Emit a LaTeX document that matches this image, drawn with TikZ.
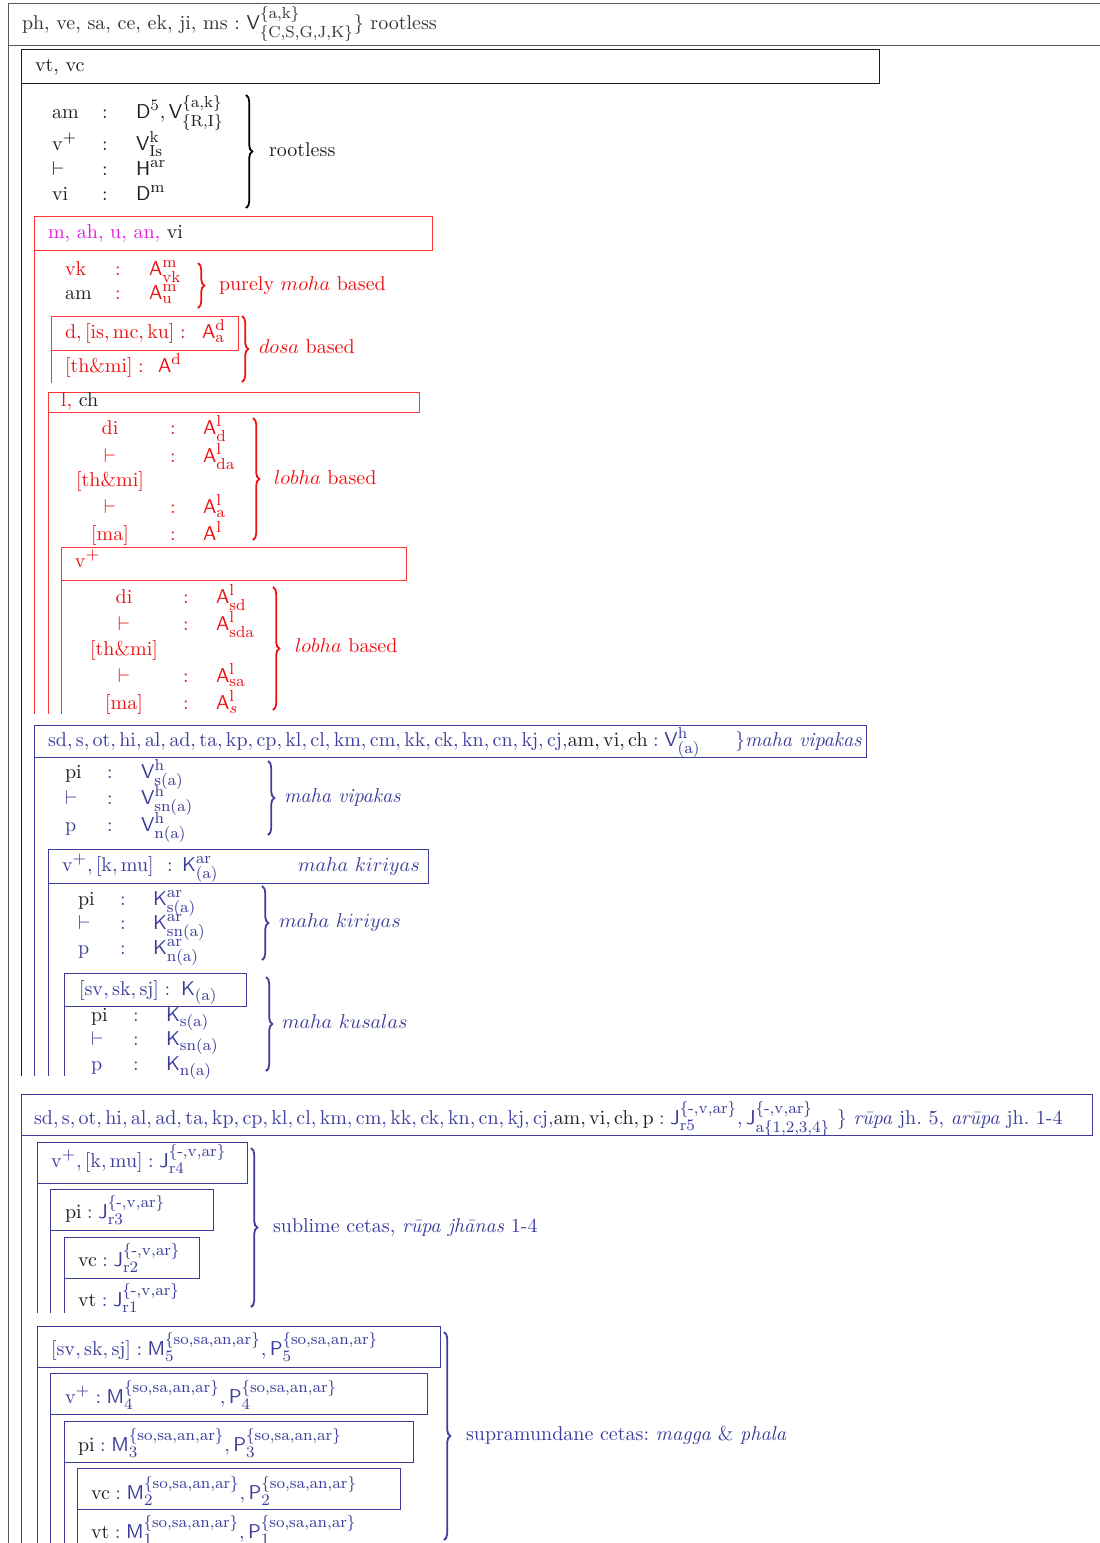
\documentclass[tikz,border=0pt]{standalone}
\usepackage{amsmath,amssymb}
\usepackage{tikz}
\usetikzlibrary{decorations.pathreplacing}
\usepackage{xcolor}
\DeclareMathSizes{10}{10}{8}{6}
\definecolor{framegray}{HTML}{5A5A5A}
\definecolor{inkblack}{HTML}{1E1E1E}
\definecolor{akred}{HTML}{EE1111}
\definecolor{akline}{HTML}{FF3333}
\definecolor{akmag}{HTML}{E01CE0}
\definecolor{kblue}{HTML}{3C3C9C}
\tikzset{
  txt/.style       = {anchor=base west, inner sep=0pt, outer sep=0pt},
  ctxt/.style      = {anchor=base, inner sep=0pt, outer sep=0pt},
  grayline/.style  = {draw=framegray, line width=0.5pt},
  blackline/.style = {draw=inkblack, line width=0.5pt},
  redline/.style   = {draw=akline, line width=0.5pt},
  blueline/.style  = {draw=kblue, line width=0.5pt},
  cbrace/.style    = {decorate, decoration={brace, amplitude=3.2pt}, line width=0.9pt},
}
\newcommand{\br}[1]{\{\mathrm{#1}\}}
\newcommand{\jsup}{\{\text{-},\mathrm{v,ar}\}}
\newcommand{\tabrow}[8]{%
  \node[#6] (#1l) at (#2,#5) {#7};
  \node[ctxt] (#1c) at (#3,#5) {:};
  \node[txt] (#1v) at (#4,#5) {#8};}

\begin{document}
\frenchspacing
\begin{tikzpicture}[x=0.5pt, y=-0.5pt, text=inkblack]
\useasboundingbox (0,0) rectangle (1099,1543);
% ---- outer frame ----
\draw[grayline] (1105,3) -- (8,3) -- (8,1543);
\draw[grayline] (8,45) -- (1105,45);
\node[txt,text=black!80] (hdr) at (22,29)
  {ph, ve, sa, ce, ek, ji, ms : $\mathsf{V}^{\br{a,k}}_{\br{C,S,G,J,K}}$\} rootless};
% ---- vt, vc ----
\draw[blackline] (21,1076) -- (21,49) -- (879,49) -- (879,83) -- (21,83);
\node[txt] (vtvc) at (35,71) {vt, vc};
\tabrow{am}{52}{105}{136}{118}{txt}{am}{$\mathsf{D}^5, \mathsf{V}^{\br{a,k}}_{\br{R,I}}$}
\tabrow{vp}{52}{105}{136}{150}{txt}{$\mathrm{v}^{+}$}{$\mathsf{V}^{\mathrm{k}}_{\mathrm{Is}}$}
\tabrow{vd}{52}{105}{136}{175}{txt}{$\vdash$}{$\mathsf{H}^{\mathrm{ar}}$}
\tabrow{vi}{52}{105}{136}{200}{txt}{vi}{$\mathsf{D}^{\mathrm{m}}$}
\draw[cbrace] (246,95) -- (246,208);
\node[txt] (rootless) at (269,156) {rootless};
% ---- akusala: moha, dosa, lobha ----
\begin{scope}[text=akred]
\draw[redline] (34,714) -- (34,216) -- (432,216) -- (432,250) -- (34,250);
\node[txt] (mah) at (48,238) {\textcolor{akmag}{m, ah, u, an,} \textcolor{inkblack}{vi}};
\tabrow{vk}{65}{118}{149}{275}{txt}{vk}{$\mathsf{A}^{\mathrm{m}}_{\mathrm{vk}}$}
\tabrow{mam}{65}{118}{149}{299}{txt}{\textcolor{inkblack}{am}}{$\mathsf{A}^{\mathrm{m}}_{\mathrm{u}}$}
\draw[cbrace,akred] (198,263) -- (198,308);
\node[txt] (moha) at (219,290) {purely $moha$ based};
% dosa
\draw[redline] (51,383) -- (51,316) -- (238,316) -- (238,350) -- (51,350);
\node[txt] (dbox) at (65,338) {$\mathrm{d, [is, mc, ku]} :$};
\node[txt] (dval) at (202,338) {$\mathsf{A}^{\mathrm{d}}_{\mathrm{a}}$};
\node[txt] (thmi) at (65,372) {$\mathrm{[th\&mi]} :$};
\node[txt] (thval) at (158,372) {$\mathsf{A}^{\mathrm{d}}$};
\draw[cbrace,akred] (242,316) -- (242,382);
\node[txt] (dosa) at (259,353) {$dosa$ based};
% lobha
\draw[redline] (48,714) -- (48,392) -- (419,392) -- (419,412) -- (48,412);
\node[txt] (lch) at (61,406) {l, \textcolor{inkblack}{ch}};
\tabrow{la}{110}{173}{203}{434}{ctxt}{di}{$\mathsf{A}^{\mathrm{l}}_{\mathrm{d}}$}
\tabrow{lb}{110}{173}{203}{462}{ctxt}{$\vdash$}{$\mathsf{A}^{\mathrm{l}}_{\mathrm{da}}$}
\node[ctxt] (lc) at (110,486) {[th\&mi]};
\tabrow{ld}{110}{173}{203}{513}{ctxt}{$\vdash$}{$\mathsf{A}^{\mathrm{l}}_{\mathrm{a}}$}
\tabrow{le}{110}{173}{203}{540}{ctxt}{[ma]}{$\mathsf{A}^{\mathrm{l}}$}
\draw[cbrace,akred] (253,418) -- (253,540);
\node[txt] (lobha) at (274,484) {$lobha$ based};
% lobha with v+
\draw[redline] (61,714) -- (61,547) -- (406,547) -- (406,580) -- (61,580);
\node[txt] (vplus) at (75,567) {$\mathrm{v}^{+}$};
\tabrow{sa}{124}{186}{216}{603}{ctxt}{di}{$\mathsf{A}^{\mathrm{l}}_{\mathrm{sd}}$}
\tabrow{sb}{124}{186}{216}{630}{ctxt}{$\vdash$}{$\mathsf{A}^{\mathrm{l}}_{\mathrm{sda}}$}
\node[ctxt] (sc) at (124,655) {[th\&mi]};
\tabrow{sd}{124}{186}{216}{682}{ctxt}{$\vdash$}{$\mathsf{A}^{\mathrm{l}}_{\mathrm{sa}}$}
\tabrow{se}{124}{186}{216}{709}{ctxt}{[ma]}{$\mathsf{A}^{\mathrm{l}}_{s}$}
\draw[cbrace,akred] (273,587) -- (273,710);
\node[txt] (lobhas) at (295,652) {$lobha$ based};
\end{scope}
% ---- vipakas, kiriyas, kusalas ----
\begin{scope}[text=kblue]
\draw[blueline] (34,1076) -- (34,725) -- (866,725) -- (866,757) -- (34,757);
\node[txt] (vhdr) at (48,746) {$\mathrm{sd, s, ot, hi, al, ad, ta, kp, cp, kl, cl, km, cm, kk, ck, kn, cn, kj, cj,}
  \textcolor{inkblack}{\mathrm{am, vi, ch}} : \mathsf{V}^{\mathrm{h}}_{(\mathrm{a})}$};
\node[txt] (vipk) at (735,746) {\}\textit{maha vipakas}};
\tabrow{pa}{65}{110}{141}{778}{txt}{\textcolor{inkblack}{pi}}{$\mathsf{V}^{\mathrm{h}}_{\mathrm{s(a)}}$}
\tabrow{pb}{65}{110}{141}{804}{txt}{$\vdash$}{$\mathsf{V}^{\mathrm{h}}_{\mathrm{sn(a)}}$}
\tabrow{pc}{65}{110}{141}{831}{txt}{p}{$\mathsf{V}^{\mathrm{h}}_{\mathrm{n(a)}}$}
\draw[cbrace,kblue] (268,761) -- (268,835);
\node[txt] (vipks) at (284,802) {\textit{maha vipakas}};
% kiriyas
\draw[blueline] (48,1076) -- (48,849) -- (428,849) -- (428,883) -- (48,883);
\node[txt] (khdr) at (62,871) {$\mathrm{v}^{+}, \mathrm{[k, mu]}$};
\node[ctxt] (khdrc) at (170,871) {:};
\node[txt] (khdrv) at (182,871) {$\mathsf{K}^{\mathrm{ar}}_{(\mathrm{a})}$};
\node[txt] (kiri) at (298,871) {$maha\ kiriyas$};
\tabrow{ka}{78}{123}{153}{905}{txt}{\textcolor{inkblack}{pi}}{$\mathsf{K}^{\mathrm{ar}}_{\mathrm{s(a)}}$}
\tabrow{kb}{78}{123}{153}{929}{txt}{$\vdash$}{$\mathsf{K}^{\mathrm{ar}}_{\mathrm{sn(a)}}$}
\tabrow{kc}{78}{123}{153}{954}{txt}{p}{$\mathsf{K}^{\mathrm{ar}}_{\mathrm{n(a)}}$}
\draw[cbrace,kblue] (262,886) -- (262,960);
\node[txt] (kiris) at (279,927) {$maha\ kiriyas$};
% kusalas
\draw[blueline] (64,1076) -- (64,973) -- (246,973) -- (246,1006) -- (64,1006);
\node[txt] (shdr) at (79,995) {$\mathrm{[sv, sk, sj]} :$};
\node[txt] (shdrv) at (181,995) {$\mathsf{K}_{(\mathrm{a})}$};
\tabrow{ua}{91}{136}{166}{1021}{txt}{\textcolor{inkblack}{pi}}{$\mathsf{K}_{\mathrm{s(a)}}$}
\tabrow{ub}{91}{136}{166}{1045}{txt}{$\vdash$}{$\mathsf{K}_{\mathrm{sn(a)}}$}
\tabrow{uc}{91}{136}{166}{1070}{txt}{p}{$\mathsf{K}_{\mathrm{n(a)}}$}
\draw[cbrace,kblue] (266,977) -- (266,1071);
\node[txt] (kusa) at (282,1028) {$maha\ kusalas$};
% ---- jhanas ----
\draw[blueline] (21,1543) -- (21,1094) -- (1092,1094) -- (1092,1135) -- (21,1135);
\node[txt] (jhdr) at (34,1124) {$\mathrm{sd, s, ot, hi, al, ad, ta, kp, cp, kl, cl, km, cm, kk, ck, kn, cn, kj, cj,}
  \textcolor{inkblack}{\mathrm{am, vi, ch, p}} : \mathsf{J}^{\jsup}_{\mathrm{r5}}, \mathsf{J}^{\jsup}_{\mathrm{a}\{1,2,3,4\}}$
  \} \textit{r\=upa} jh. 5, \textit{ar\=upa} jh. 1-4};
\draw[blueline] (37,1313) -- (37,1142) -- (247,1142) -- (247,1183) -- (37,1183);
\node[txt] (jra) at (51,1167) {$\mathrm{v}^{+}, \mathrm{[k, mu]} : \mathsf{J}^{\jsup}_{\mathrm{r4}}$};
\draw[blueline] (50,1313) -- (50,1189) -- (213,1189) -- (213,1230) -- (50,1230);
\node[txt] (jrb) at (65,1218) {$\textcolor{inkblack}{\mathrm{pi}} : \mathsf{J}^{\jsup}_{\mathrm{r3}}$};
\draw[blueline] (64,1313) -- (64,1237) -- (199,1237) -- (199,1278) -- (64,1278);
\node[txt] (jrc) at (78,1266) {$\textcolor{inkblack}{\mathrm{vc}} : \mathsf{J}^{\jsup}_{\mathrm{r2}}$};
\node[txt] (jrd) at (78,1306) {$\textcolor{inkblack}{\mathrm{vt}} : \mathsf{J}^{\jsup}_{\mathrm{r1}}$};
\draw[cbrace,kblue] (251,1148) -- (251,1307);
\node[txt] (subl) at (273,1232) {sublime cetas, \textit{r\=upa jh\=anas} 1-4};
% ---- magga & phala ----
\draw[blueline] (37,1543) -- (37,1326) -- (440,1326) -- (440,1367) -- (37,1367);
\node[txt] (mpa) at (51,1355) {$\mathrm{[sv, sk, sj]} : \mathsf{M}^{\br{so,sa,an,ar}}_{5}, \mathsf{P}^{\br{so,sa,an,ar}}_{5}$};
\draw[blueline] (50,1543) -- (50,1373) -- (427,1373) -- (427,1414) -- (50,1414);
\node[txt] (mpb) at (65,1403) {$\mathrm{v}^{+} : \mathsf{M}^{\br{so,sa,an,ar}}_{4}, \mathsf{P}^{\br{so,sa,an,ar}}_{4}$};
\draw[blueline] (64,1543) -- (64,1421) -- (413,1421) -- (413,1462) -- (64,1462);
\node[txt] (mpc) at (78,1451) {$\textcolor{inkblack}{\mathrm{pi}} : \mathsf{M}^{\br{so,sa,an,ar}}_{3}, \mathsf{P}^{\br{so,sa,an,ar}}_{3}$};
\draw[blueline] (77,1543) -- (77,1468) -- (400,1468) -- (400,1509) -- (77,1509);
\node[txt] (mpd) at (91,1499) {$\textcolor{inkblack}{\mathrm{vc}} : \mathsf{M}^{\br{so,sa,an,ar}}_{2}, \mathsf{P}^{\br{so,sa,an,ar}}_{2}$};
\node[txt] (mpe) at (91,1538) {$\textcolor{inkblack}{\mathrm{vt}} : \mathsf{M}^{\br{so,sa,an,ar}}_{1}, \mathsf{P}^{\br{so,sa,an,ar}}_{1}$};
\draw[cbrace,kblue] (444,1332) -- (444,1540);
\node[txt] (supra) at (466,1440) {supramundane cetas: \textit{magga} \& \textit{phala}};
\end{scope}
\end{tikzpicture}
\end{document}
